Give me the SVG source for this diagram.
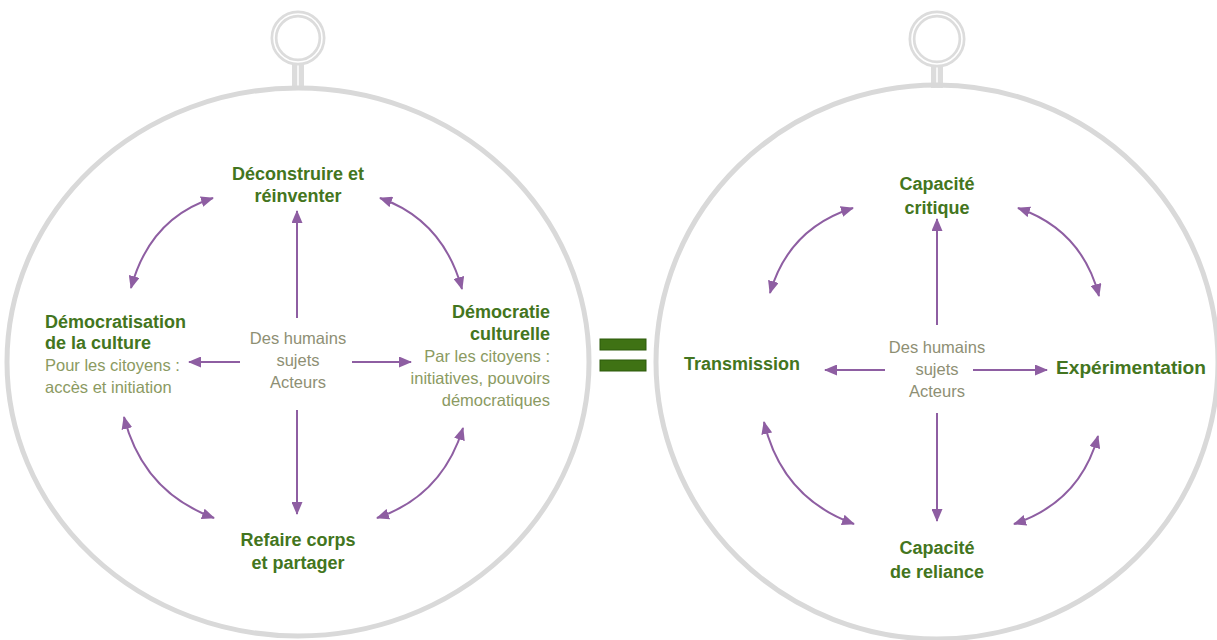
<svg xmlns="http://www.w3.org/2000/svg" width="1217" height="640" viewBox="0 0 1217 640">
  <style>
    .frame { fill: none; stroke: #d9d9d9; stroke-width: 5; }
    .ring { fill: none; stroke: #dcdcdc; stroke-width: 7; }
    .ring-inner { fill: none; stroke: #ffffff; stroke-width: 1.6; }
    .head { font-family: "Liberation Sans", Arial, sans-serif; font-weight: bold; font-size: 18px; fill: #437520; }
    .sub { font-family: "Liberation Sans", Arial, sans-serif; font-size: 16.5px; fill: #8b9a62; }
    .core { font-family: "Liberation Sans", Arial, sans-serif; font-size: 16.5px; fill: #8e8f74; text-anchor: middle; }
    .link { fill: none; stroke: #8e5ea2; stroke-width: 2; marker-end: url(#tip); }
    .link2 { fill: none; stroke: #8e5ea2; stroke-width: 2; marker-start: url(#tip); marker-end: url(#tip); }
    .bar { fill: #3f7214; stroke: #2d5a0a; stroke-width: 1; }
  </style>
  <defs>
    <marker id="tip" viewBox="0 0 13 11" refX="12" refY="5.5" markerWidth="13" markerHeight="11" markerUnits="userSpaceOnUse" orient="auto-start-reverse">
      <path d="M0,0 L13,5.5 L0,11 Z" fill="#8e5ea2"/>
    </marker>
  </defs>

  <rect width="1217" height="640" fill="#ffffff"/>

  <!-- left medallion -->
  <g id="medallion-left">
    <rect x="292" y="62" width="12" height="28" fill="#dcdcdc"/>
    <line x1="298" y1="64" x2="298" y2="88" stroke="#ffffff" stroke-width="1.5"/>
    <circle class="ring" cx="298" cy="38" r="24"/>
    <circle class="ring-inner" cx="298" cy="38" r="24"/>
    <ellipse class="frame" cx="298" cy="362" rx="291" ry="274"/>
  </g>

  <!-- right medallion -->
  <g id="medallion-right">
    <rect x="931" y="62" width="12" height="26" fill="#dcdcdc"/>
    <line x1="937" y1="64" x2="937" y2="86" stroke="#ffffff" stroke-width="1.5"/>
    <circle class="ring" cx="937" cy="39" r="25"/>
    <circle class="ring-inner" cx="937" cy="39" r="25"/>
    <ellipse class="frame" cx="937" cy="362" rx="281" ry="277"/>
  </g>

  <!-- equals sign -->
  <g id="equals">
    <rect class="bar" x="600" y="339" width="46" height="11"/>
    <rect class="bar" x="600" y="360" width="46" height="11"/>
  </g>

  <!-- left diagram nodes -->
  <g id="l-top">
    <text class="head" x="298" y="180" text-anchor="middle">Déconstruire et</text>
    <text class="head" x="298" y="202" text-anchor="middle">réinventer</text>
  </g>
  <g id="l-left">
    <text class="head" x="45" y="328">Démocratisation</text>
    <text class="head" x="45" y="349">de la culture</text>
    <text class="sub" x="45" y="371">Pour les citoyens :</text>
    <text class="sub" x="45" y="393">accès et initiation</text>
  </g>
  <g id="l-right">
    <text class="head" x="550" y="318" text-anchor="end">Démocratie</text>
    <text class="head" x="550" y="340" text-anchor="end">culturelle</text>
    <text class="sub" x="550" y="362" text-anchor="end">Par les citoyens :</text>
    <text class="sub" x="550" y="384" text-anchor="end">initiatives, pouvoirs</text>
    <text class="sub" x="550" y="406" text-anchor="end">démocratiques</text>
  </g>
  <g id="l-center">
    <text class="core" x="298" y="344">Des humains</text>
    <text class="core" x="298" y="366">sujets</text>
    <text class="core" x="298" y="388">Acteurs</text>
  </g>
  <g id="l-bottom">
    <text class="head" x="298" y="546" text-anchor="middle">Refaire corps</text>
    <text class="head" x="298" y="569" text-anchor="middle">et partager</text>
  </g>

  <!-- right diagram nodes -->
  <g id="r-top">
    <text class="head" x="937" y="190" text-anchor="middle">Capacité</text>
    <text class="head" x="937" y="214" text-anchor="middle">critique</text>
  </g>
  <g id="r-left">
    <text class="head" x="684" y="370">Transmission</text>
  </g>
  <g id="r-right">
    <text class="head" x="1056" y="374" textLength="150" lengthAdjust="spacingAndGlyphs">Expérimentation</text>
  </g>
  <g id="r-center">
    <text class="core" x="937" y="353">Des humains</text>
    <text class="core" x="937" y="375">sujets</text>
    <text class="core" x="937" y="397">Acteurs</text>
  </g>
  <g id="r-bottom">
    <text class="head" x="937" y="554" text-anchor="middle">Capacité</text>
    <text class="head" x="937" y="578" text-anchor="middle">de reliance</text>
  </g>

  <!-- connectors -->
  <g id="connectors">
    <!-- left diagram: from the centre outwards -->
    <line class="link" x1="297" y1="318" x2="297" y2="211"/>
    <line class="link" x1="297" y1="410" x2="297" y2="514"/>
    <line class="link" x1="240" y1="362" x2="189" y2="362"/>
    <line class="link" x1="352" y1="362" x2="411" y2="362"/>
    <!-- left diagram: curved links between neighbours -->
    <path class="link2" d="M213,198 Q150,218 131,288"/>
    <path class="link2" d="M380,198 Q443,220 462,289"/>
    <path class="link2" d="M124,417 Q143,492 214,518"/>
    <path class="link2" d="M463,428 Q442,496 377,518"/>

    <!-- right diagram: from the centre outwards -->
    <line class="link" x1="937" y1="325" x2="937" y2="219"/>
    <line class="link" x1="937" y1="413" x2="937" y2="521"/>
    <line class="link" x1="885" y1="370" x2="825" y2="370"/>
    <line class="link" x1="973" y1="370" x2="1047" y2="370"/>
    <!-- right diagram: curved links between neighbours -->
    <path class="link2" d="M853,208 Q789,228 770,293"/>
    <path class="link2" d="M1018,208 Q1082,230 1099,296"/>
    <path class="link2" d="M764,422 Q782,498 854,524"/>
    <path class="link2" d="M1098,436 Q1080,502 1014,524"/>
  </g>
</svg>
